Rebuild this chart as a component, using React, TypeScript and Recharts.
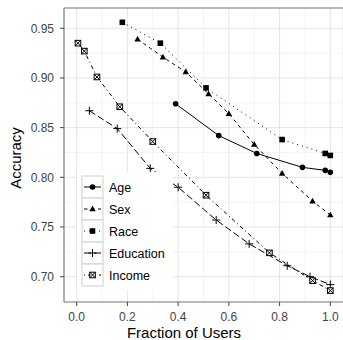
import React from "react";
import { LineChart, Line, XAxis, YAxis, CartesianGrid, ReferenceLine } from "recharts";

// values
const ageX = [0.39, 0.56, 0.71, 0.89, 0.98, 1.0];
const ageY = [0.874, 0.842, 0.824, 0.81, 0.807, 0.805];
const sexX = [0.24, 0.34, 0.43, 0.52, 0.6, 0.7, 0.81, 0.93, 1.0];
const sexY = [0.939, 0.921, 0.906, 0.884, 0.864, 0.833, 0.804, 0.776, 0.762];
const raceX = [0.18, 0.33, 0.51, 0.81, 0.98, 1.0];
const raceY = [0.956, 0.935, 0.89, 0.838, 0.824, 0.822];
const eduX = [0.05, 0.16, 0.29, 0.4, 0.55, 0.68, 0.83, 0.92, 1.0];
const eduY = [0.867, 0.849, 0.809, 0.79, 0.757, 0.733, 0.711, 0.7, 0.692];
const incomeX = [0.005, 0.03, 0.08, 0.17, 0.3, 0.51, 0.76, 0.93, 1.0];
const incomeY = [0.935, 0.927, 0.901, 0.871, 0.836, 0.782, 0.724, 0.696, 0.686];

const xTicks = [0, 0.2, 0.4, 0.6, 0.8, 1.0];
const yTicks = [0.7, 0.75, 0.8, 0.85, 0.9, 0.95];
const xMinor = [0.1, 0.3, 0.5, 0.7, 0.9];
const yMinor = [0.725, 0.775, 0.825, 0.875, 0.925];

const FONT = "'Liberation Sans', Arial, sans-serif";

function zip(xs: number[], ys: number[]) {
  return xs.map((x, i) => ({ x, y: ys[i] }));
}

type Marker = (cx: number, cy: number, key?: string) => React.ReactElement;

const circle: Marker = (cx, cy, key) => <circle key={key} cx={cx} cy={cy} r={2.8} fill="#000" />;
const triangle: Marker = (cx, cy, key) => (
  <polygon key={key} points={`${cx},${cy - 3.4} ${cx + 3.2},${cy + 2.3} ${cx - 3.2},${cy + 2.3}`} fill="#000" />
);
const square: Marker = (cx, cy, key) => <rect key={key} x={cx - 2.8} y={cy - 2.8} width={5.6} height={5.6} fill="#000" />;
const plus: Marker = (cx, cy, key) => (
  <g key={key} stroke="#000" strokeWidth={1}>
    <line x1={cx - 4} y1={cy} x2={cx + 4} y2={cy} />
    <line x1={cx} y1={cy - 4} x2={cx} y2={cy + 4} />
  </g>
);
const boxX: Marker = (cx, cy, key) => (
  <g key={key} stroke="#000" strokeWidth={1}>
    <rect x={cx - 2.8} y={cy - 2.8} width={5.6} height={5.6} fill="#fff" />
    <line x1={cx - 2.8} y1={cy - 2.8} x2={cx + 2.8} y2={cy + 2.8} />
    <line x1={cx - 2.8} y1={cy + 2.8} x2={cx + 2.8} y2={cy - 2.8} />
  </g>
);

const series = [
  { name: "Age", data: zip(ageX, ageY), dash: undefined as string | undefined, marker: circle },
  { name: "Sex", data: zip(sexX, sexY), dash: "3.5 3.5", marker: triangle },
  { name: "Race", data: zip(raceX, raceY), dash: "1 4", marker: square },
  { name: "Education", data: zip(eduX, eduY), dash: "7 3", marker: plus },
  { name: "Income", data: zip(incomeX, incomeY), dash: "1 3 4 3", marker: boxX },
];

function dotFor(name: string, marker: Marker) {
  return (props: any) => {
    const { cx, cy, index } = props;
    if (cx == null || cy == null) return <g key={`${name}-${index}`} />;
    return marker(cx, cy, `${name}-${index}`);
  };
}

function LegendBox() {
  const rowH = 22;
  return (
    <svg width={96} height={118} style={{ position: "absolute", left: 77, top: 172 }}>
      <rect x={0} y={0} width={96} height={118} fill="#fff" />
      {series.map((s, i) => {
        const top = 4 + i * rowH;
        const cy = top + rowH / 2;
        return (
          <g key={s.name}>
            <rect x={5} y={top} width={21} height={rowH} fill="#fff" stroke="#cfcfcf" strokeWidth={1} />
            <line x1={7} y1={cy} x2={24} y2={cy} stroke="#000" strokeWidth={1} strokeDasharray={s.dash} />
            {s.marker(15.5, cy)}
            <text x={32} y={cy + 4.5} fontSize={12.5} fontFamily={FONT} fill="#000">
              {s.name}
            </text>
          </g>
        );
      })}
    </svg>
  );
}

export default function App() {
  return (
    <div style={{ position: "absolute", left: 0, top: 0, width: 343, height: 340, background: "#fff" }}>
      <LineChart width={343} height={340} margin={{ top: 8, right: 0, left: 0, bottom: 0 }}>
        <CartesianGrid stroke="#e5e5e5" strokeWidth={1} />
        {xMinor.map((v) => (
          <ReferenceLine key={`xm${v}`} x={v} stroke="#f3f3f3" strokeWidth={1} />
        ))}
        {yMinor.map((v) => (
          <ReferenceLine key={`ym${v}`} y={v} stroke="#f3f3f3" strokeWidth={1} />
        ))}
        <ReferenceLine y={0.9704} stroke="#7f7f7f" strokeWidth={1.2} />
        <XAxis
          dataKey="x"
          type="number"
          domain={[-0.05, 1.05]}
          ticks={xTicks}
          allowDuplicatedCategory={false}
          tickFormatter={(v: number) => v.toFixed(1)}
          tick={{ fill: "#444", fontSize: 12, fontFamily: FONT }}
          tickLine={{ stroke: "#444" }}
          tickSize={4}
          tickMargin={6}
          axisLine={{ stroke: "#7f7f7f", strokeWidth: 1.2 }}
          height={38}
          label={({ viewBox }: any) => (
            <text
              x={viewBox.x + viewBox.width / 2 - 19.5}
              y={viewBox.y + 36}
              textAnchor="middle"
              fontSize={15}
              fontFamily={FONT}
              fill="#000"
            >
              Fraction of Users
            </text>
          )}
        />
        <YAxis
          dataKey="y"
          type="number"
          domain={[0.6745, 0.9704]}
          ticks={yTicks}
          tickFormatter={(v: number) => v.toFixed(2)}
          tick={{ fill: "#444", fontSize: 12, fontFamily: FONT }}
          tickLine={{ stroke: "#444" }}
          tickSize={4}
          tickMargin={6}
          axisLine={{ stroke: "#7f7f7f", strokeWidth: 1.2 }}
          width={64}
          label={({ viewBox }: any) => {
            const x = viewBox.x + 21;
            const y = viewBox.y + viewBox.height / 2 + 3;
            return (
              <text
                x={x}
                y={y}
                transform={`rotate(-90, ${x}, ${y})`}
                textAnchor="middle"
                fontSize={15}
                fontFamily={FONT}
                fill="#000"
              >
                Accuracy
              </text>
            );
          }}
        />
        {series.map((s) => (
          <Line
            key={s.name}
            data={s.data}
            dataKey="y"
            name={s.name}
            type="linear"
            stroke="#000"
            strokeWidth={1}
            strokeDasharray={s.dash}
            dot={dotFor(s.name, s.marker)}
            activeDot={false}
            isAnimationActive={false}
          />
        ))}
      </LineChart>
      <LegendBox />
    </div>
  );
}
